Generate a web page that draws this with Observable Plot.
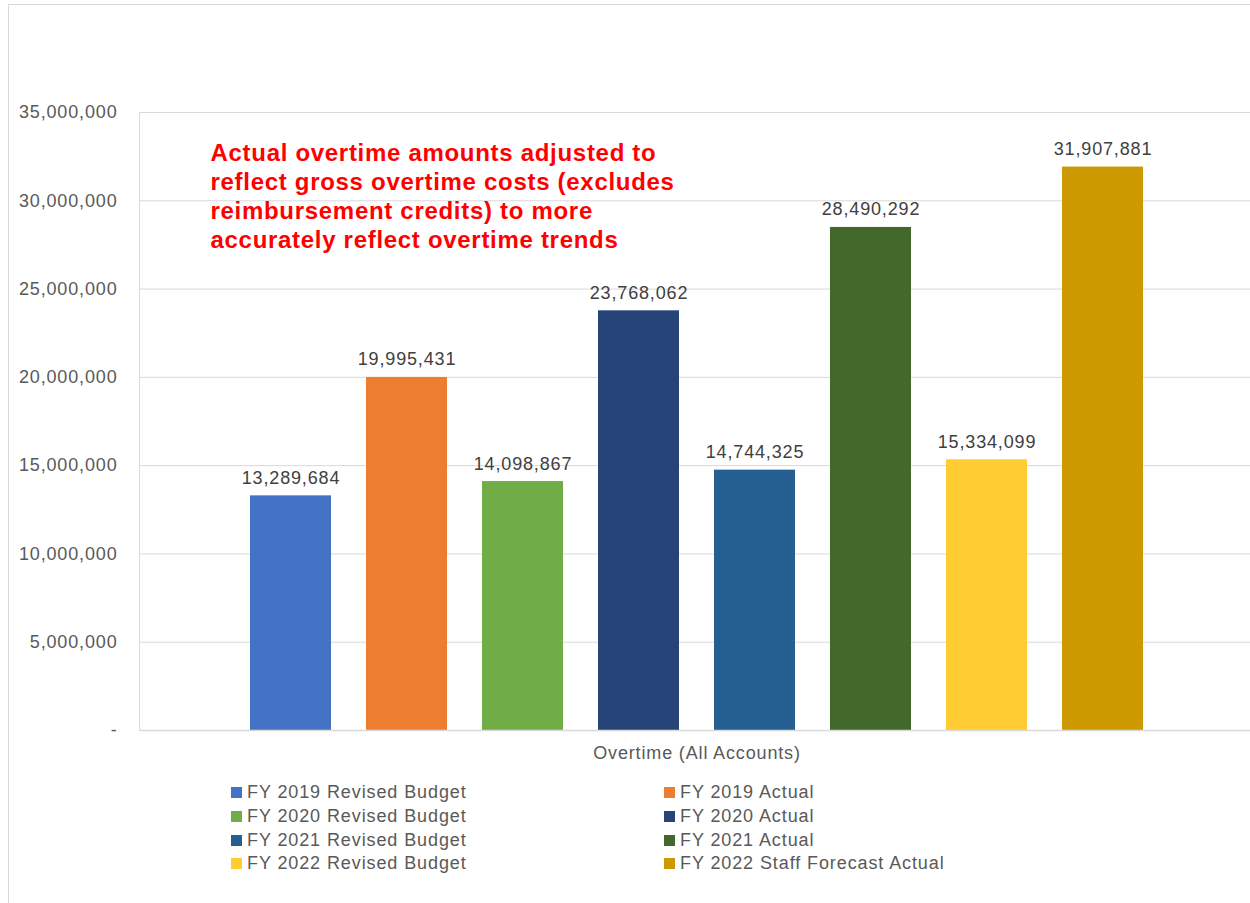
<!DOCTYPE html>
<html>
<head>
<meta charset="utf-8">
<script src="https://cdn.jsdelivr.net/npm/d3@7"></script>
<script src="https://cdn.jsdelivr.net/npm/@observablehq/plot@0.6"></script>
<style>
  html, body { margin: 0; padding: 0; background: #fff; overflow: hidden; }
  body { width: 1250px; height: 903px; position: relative; font-family: "Liberation Sans", Arial, sans-serif; }
  #border { position: absolute; left: 8px; top: 4px; width: 1250px; height: 910px;
            border-left: 1px solid #d9d9d9; border-top: 1px solid #d9d9d9; box-sizing: border-box; }
  #chart { position: absolute; left: 0; top: 0; }
  #legend { position: absolute; left: 231px; top: 781px; display: grid;
            grid-template-columns: 433px 300px; grid-auto-rows: 23.7px;
            font-size: 18px; letter-spacing: 0.9px; color: #595959; }
  .item { display: flex; align-items: center; white-space: nowrap; }
  .sw { width: 11px; height: 11px; margin-right: 5px; flex: none; }
</style>
</head>
<body>
<div id="border"></div>
<div id="chart"></div>
<div id="legend"></div>
<script>
const series = [
  "FY 2019 Revised Budget", "FY 2019 Actual",
  "FY 2020 Revised Budget", "FY 2020 Actual",
  "FY 2021 Revised Budget", "FY 2021 Actual",
  "FY 2022 Revised Budget", "FY 2022 Staff Forecast Actual"
];
const values = [13289684, 19995431, 14098867, 23768062, 14744325, 28490292, 15334099, 31907881];
const colors = ["#4472C4", "#ED7D31", "#70AD47", "#264478", "#255E91", "#43682B", "#FFCD33", "#CC9900"];
const yTicks = [0, 5000000, 10000000, 15000000, 20000000, 25000000, 30000000, 35000000];
const categoryLabel = "Overtime (All Accounts)";
const note = "Actual overtime amounts adjusted to\nreflect gross overtime costs (excludes\nreimbursement credits) to more\naccurately reflect overtime trends";

const data = series.map((s, i) => ({series: s, value: values[i]}));
const fmt = d3.format(",");

const chart = Plot.plot({
  width: 1250,
  height: 775,
  marginTop: 112,
  marginBottom: 45,
  marginLeft: 139,
  marginRight: 0,
  style: {fontFamily: "'Liberation Sans', Arial, sans-serif", background: "transparent", overflow: "visible"},
  x: {domain: series, range: [139, 1255], paddingInner: 0.3, paddingOuter: 0.935, axis: null},
  y: {domain: [0, 35000000], axis: null, label: null},
  color: {domain: series, range: colors},
  marks: [
    Plot.gridY(yTicks.slice(1), {stroke: "#d9d9d9", strokeOpacity: 1, strokeWidth: 1}),
    Plot.barY(data, {x: "series", y: "value", fill: "series"}),
    Plot.ruleY([0], {stroke: "#d9d9d9", strokeWidth: 1.5}),
    Plot.frame({anchor: "left", stroke: "#d9d9d9"}),
    Plot.axisY(yTicks, {
      label: null, tickSize: 0, tickPadding: 22, fontSize: 18, fill: "#595959",
      tickFormat: d => d === 0 ? "-" : fmt(d)
    }),
    Plot.text(data, {
      x: "series", y: "value", text: d => fmt(d.value),
      lineAnchor: "bottom", dy: -12, fontSize: 18, fill: "#404040"
    }),
    Plot.text([categoryLabel], {
      frameAnchor: "bottom", text: d => d, dy: 28, dx: 2,
      fontSize: 18, fill: "#595959"
    }),
    Plot.text([note], {
      frameAnchor: "top-left", text: d => d, textAnchor: "start", lineAnchor: "top",
      dx: 71, dy: 28, lineHeight: 29 / 24, fontSize: 24, fontWeight: "bold", fill: "#FF0000"
    })
  ]
});
document.getElementById("chart").appendChild(chart);

// emulate the reference's slightly wide lettering
d3.select(chart).selectAll("text").style("letter-spacing", "0.85px");
d3.select(chart).selectAll("g[fill='#FF0000'] text, text[fill='#FF0000']").style("letter-spacing", "0.7px");

const legend = document.getElementById("legend");
series.forEach((s, i) => {
  const item = document.createElement("div");
  item.className = "item";
  const sw = document.createElement("span");
  sw.className = "sw";
  sw.style.background = colors[i];
  const t = document.createElement("span");
  t.textContent = s;
  item.appendChild(sw);
  item.appendChild(t);
  legend.appendChild(item);
});
</script>
</body>
</html>
